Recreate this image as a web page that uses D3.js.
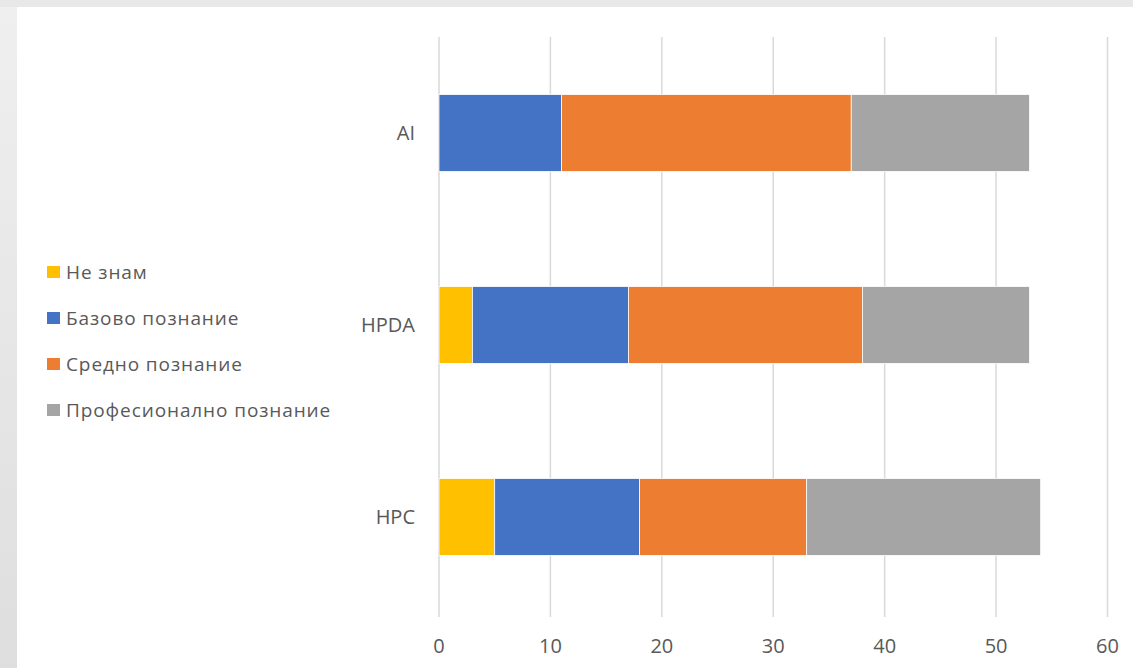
<html>
<head>
  <meta charset="utf-8">
  <script src="https://d3js.org/d3.v7.min.js"></script>
  <style>
    body { margin: 0; background-color: #ebebeb; }
    svg { display: block; }
    text { font-family: "Open Sans", sans-serif; fill: #595959; }
    .grid line { stroke: #d9d9d9; stroke-width: 1.5px; }
  </style>
</head>
<body>
  <svg width="1133" height="668"></svg>

  <script>
    var categories = ["AI", "HPDA", "HPC"];
    var seriesNames = ["Не знам", "Базово познание", "Средно познание", "Професионално познание"];
    var colors = ["#FFC000", "#4472C4", "#ED7D31", "#A5A5A5"];
    var neZnam    = [0, 3, 5];
    var bazovo    = [11, 14, 13];
    var sredno    = [26, 21, 15];
    var profesion = [16, 15, 21];
    var xTicks = [0, 10, 20, 30, 40, 50, 60];

    var rows = categories.map(function(c, i) {
      return {cat: c, s0: neZnam[i], s1: bazovo[i], s2: sredno[i], s3: profesion[i]};
    });
    var keys = ["s0", "s1", "s2", "s3"];

    var svg = d3.select("svg");

    // page backdrop
    var defs = svg.append("defs");
    var grad = defs.append("linearGradient").attr("id", "side")
        .attr("x1", 0).attr("y1", 0).attr("x2", 0).attr("y2", 1);
    grad.append("stop").attr("offset", "0%").attr("stop-color", "#efefef");
    grad.append("stop").attr("offset", "100%").attr("stop-color", "#dedede");
    svg.append("rect").attr("width", 1133).attr("height", 7).attr("fill", "#e8e8e8");
    svg.append("rect").attr("y", 7).attr("width", 17).attr("height", 661).attr("fill", "url(#side)");
    svg.append("rect").attr("x", 17).attr("y", 7).attr("width", 1116).attr("height", 661).attr("fill", "#fff");

    var x = d3.scaleLinear().domain([0, 60]).range([439, 1107.5]);
    var y = d3.scaleBand().domain(categories).range([37, 613])
        .paddingInner(0.6).paddingOuter(0.3);

    svg.append("g").attr("class", "grid")
      .selectAll("line").data(xTicks).enter().append("line")
        .attr("x1", function(d) { return x(d); })
        .attr("x2", function(d) { return x(d); })
        .attr("y1", 37).attr("y2", 617);

    var stack = d3.stack().keys(keys)(rows);

    svg.append("g").selectAll("g").data(stack).enter().append("g")
        .attr("fill", function(d, i) { return colors[i]; })
      .selectAll("rect").data(function(d) { return d; }).enter().append("rect")
        .filter(function(d) { return d[1] > d[0]; })
        .attr("x", function(d) { return x(d[0]); })
        .attr("width", function(d) { return x(d[1]) - x(d[0]); })
        .attr("y", function(d) { return y(d.data.cat); })
        .attr("height", y.bandwidth())
        .attr("stroke", "#fff").attr("stroke-width", 0.75);

    // category labels
    svg.append("g").selectAll("text").data(categories).enter().append("text")
        .attr("x", 415)
        .attr("y", function(d) { return y(d) + y.bandwidth() / 2; })
        .attr("dy", "0.36em")
        .attr("text-anchor", "end")
        .style("font-size", "20px")
        .text(function(d) { return d; });

    // x axis labels
    svg.append("g").selectAll("text").data(xTicks).enter().append("text")
        .attr("x", function(d) { return x(d); })
        .attr("y", 645.5)
        .attr("dy", "0.36em")
        .attr("text-anchor", "middle")
        .style("font-size", "20px")
        .text(function(d) { return d; });

    // legend
    var legend = svg.append("g").selectAll("g").data(seriesNames).enter().append("g")
        .attr("transform", function(d, i) { return "translate(47," + (272 + i * 46) + ")"; });
    legend.append("rect")
        .attr("y", -6).attr("width", 13).attr("height", 12)
        .attr("fill", function(d, i) { return colors[i]; });
    legend.append("text")
        .attr("x", 19).attr("dy", "0.36em")
        .style("font-size", "19px")
        .style("letter-spacing", "0.9px")
        .text(function(d) { return d; });
  </script>
</body>
</html>
